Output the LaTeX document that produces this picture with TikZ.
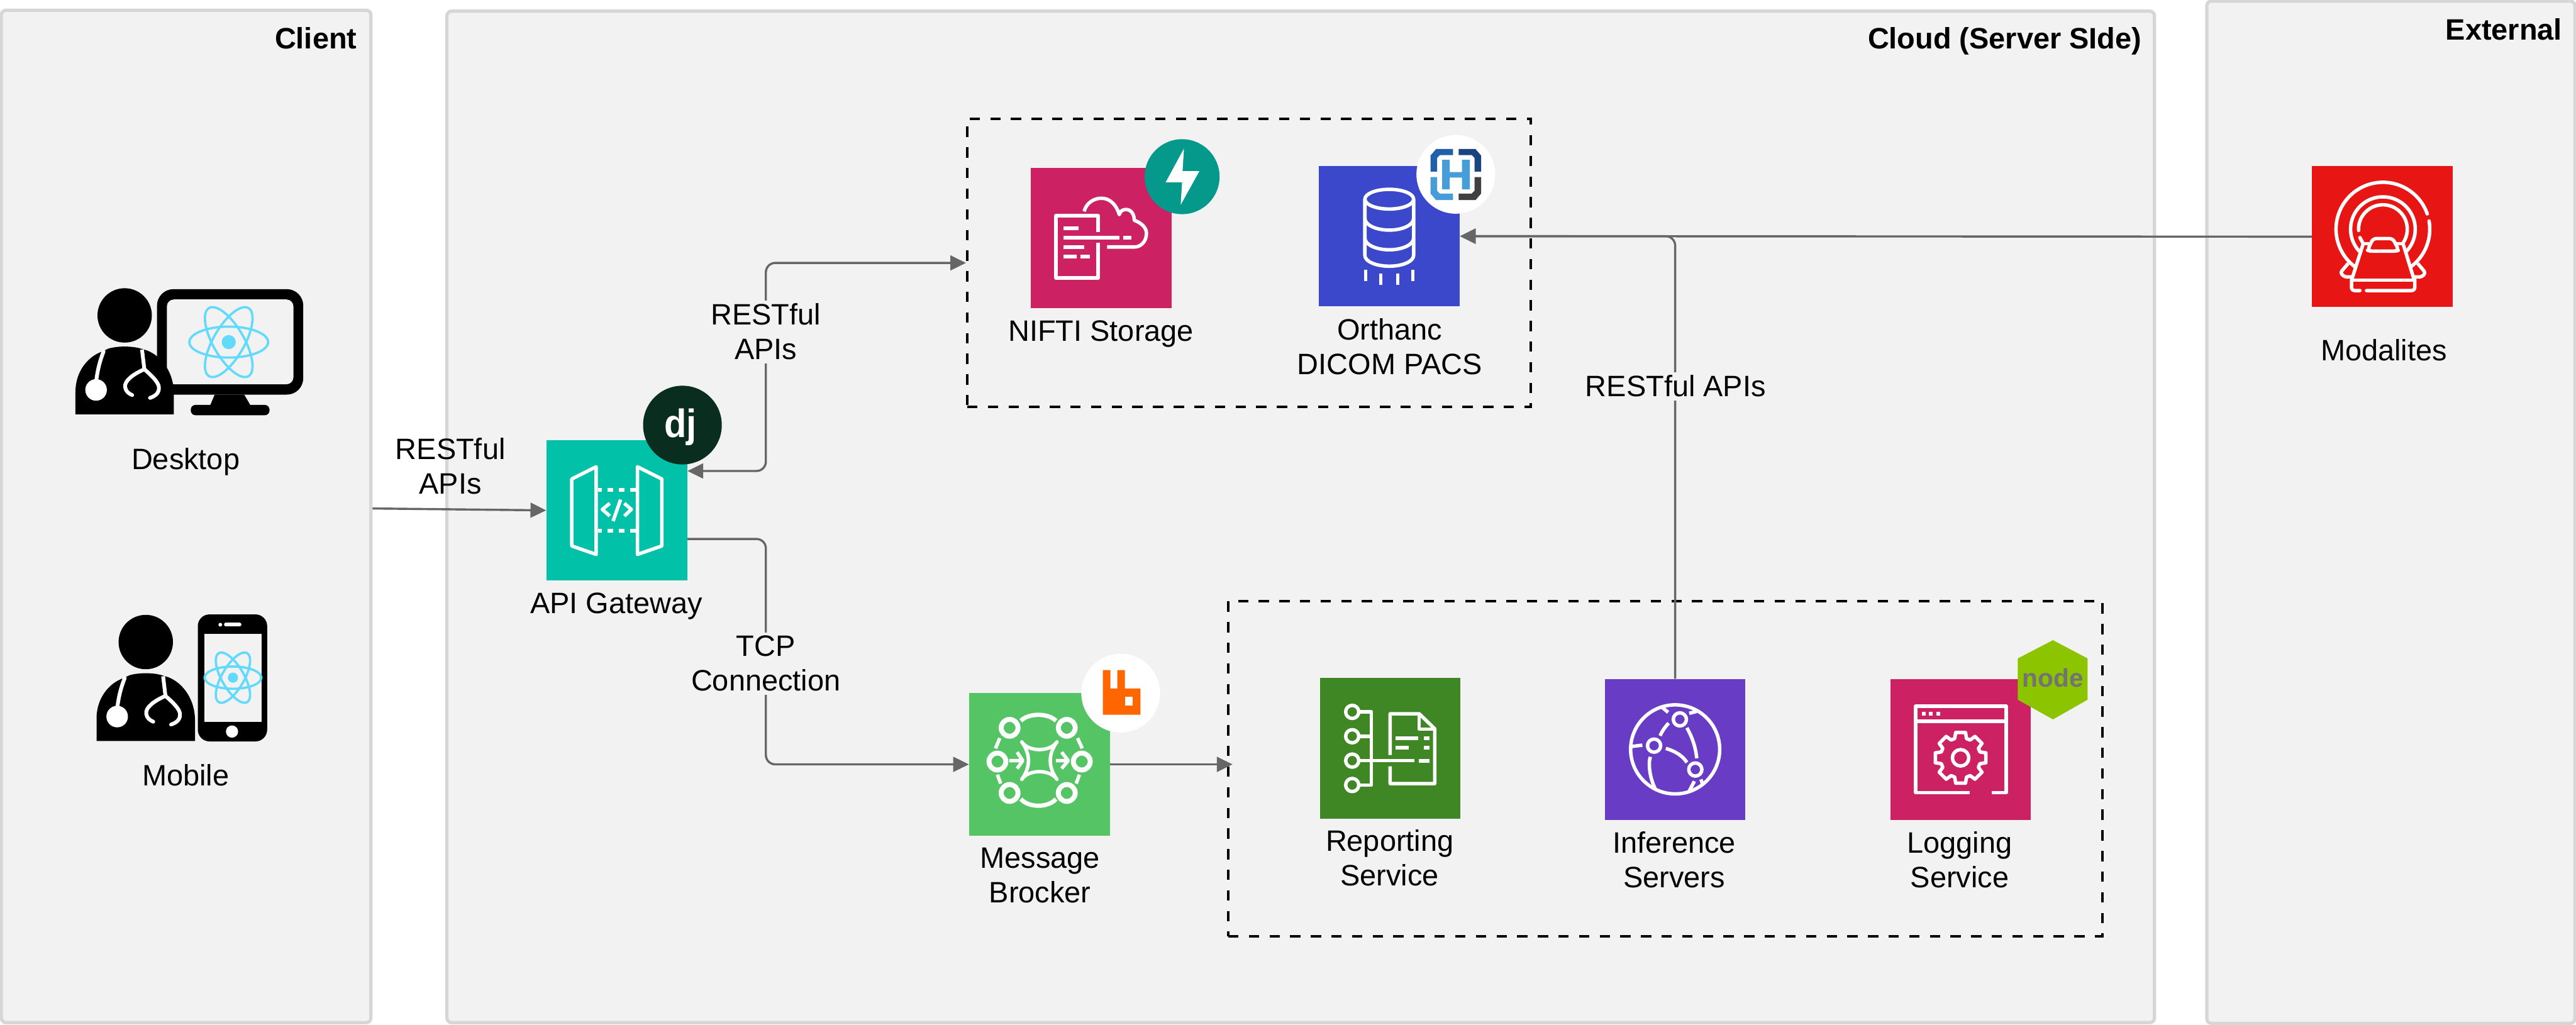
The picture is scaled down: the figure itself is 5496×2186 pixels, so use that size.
\documentclass[tikz,border=0pt]{standalone}
\usepackage{fontspec}
\usepackage{graphicx}
\setmainfont{Liberation Sans}
\usetikzlibrary{arrows.meta}
\definecolor{panelgray}{HTML}{F2F2F2}
\definecolor{panelrule}{HTML}{D6D6D6}
\definecolor{wiregray}{HTML}{666666}
\definecolor{reactblue}{HTML}{61DAFB}
\definecolor{apiteal}{HTML}{01C2A8}
\definecolor{awspink}{HTML}{CC2264}
\definecolor{awsblue}{HTML}{3B48CC}
\definecolor{brokergreen}{HTML}{55C464}
\definecolor{reportgreen}{HTML}{3F8624}
\definecolor{inferpurple}{HTML}{693CC5}
\definecolor{modalred}{HTML}{E81515}
\definecolor{fastteal}{HTML}{05998B}
\definecolor{djgreen}{HTML}{092E20}
\definecolor{nodelime}{HTML}{8CC400}
\definecolor{rabbitorange}{HTML}{FF6600}
\definecolor{hblue}{HTML}{2060A8}
\definecolor{hnavy}{HTML}{1A4480}
\definecolor{hsky}{HTML}{469DD8}
\definecolor{hdark}{HTML}{404040}
\tikzset{
  panel/.style={draw=panelrule,fill=panelgray,line width=2pt,rounded corners=0.1cm,inner sep=0pt},
  paneltitle/.style={font=\fontsize{17.9}{21}\selectfont\bfseries,inner sep=0pt},
  dashbox/.style={draw=black,line width=1.6pt,dash pattern=on 0.22cm off 0.22cm,inner sep=0pt},
  svcbox/.style={minimum size=3cm,inner sep=0pt},
  caption/.style={font=\fontsize{17.9}{21}\selectfont,align=center,inner sep=0pt},
  wirelabel/.style={caption,fill=panelgray,inner sep=2pt},
  wire/.style={draw=wiregray,line width=1.3pt,rounded corners=0.2cm,->},
  iconline/.style={draw=white,line width=2.1pt,line join=round},
  reactline/.style={draw=reactblue,line width=1.4pt},
}
\newcommand{\doctoricon}[2]{%
  \begin{scope}[shift={(#1,#2)}]
    \fill (266,673) circle (58);
    \fill (161,884) -- (161,836) .. controls (161,795) and (185,762) .. (218,750)
      -- (231,744) .. controls (250,738) and (282,738) .. (301,744)
      -- (314,748) .. controls (345,760) and (371,795) .. (371,840) -- (371,884) -- cycle;
    \draw[white,line width=2.3pt,line cap=round] (221,750) .. controls (213,770) and (208,790) .. (205,815);
    \fill[white] (205,832) circle (23);
    \draw[white,line width=2.3pt] (303,746) -- (308,788);
    \draw[white,line width=2.3pt,line cap=round] (282,843) .. controls (275,840) and (268,835) .. (267,826)
      .. controls (265,812) and (285,798) .. (308,788) .. controls (322,800) and (338,815) .. (339,826)
      .. controls (340,838) and (332,845) .. (320,849);
  \end{scope}}
\newcommand{\reacticon}[3]{%
  \begin{scope}[shift={(#1,#2)},scale=#3]
    \foreach \turn in {0,60,120}
      \draw[reactline,rotate=\turn] (0,0) ellipse (84 and 33);
    \fill[reactblue] (0,0) circle (15);
  \end{scope}}
\begin{document}
\begin{tikzpicture}[x=0.01cm,y=-0.01cm,>={Triangle[length=9.5pt,width=9pt]}]
  \clip (0,0) rectangle (5496,2186);
  % panels
  \node[panel,minimum width=7.88cm,minimum height=21.59cm] (client) at (397,1102) {};
  \node[panel,minimum width=36.41cm,minimum height=21.57cm] (cloud) at (2775,1103) {};
  \node[panel,minimum width=7.85cm,minimum height=21.8cm] (external) at (5101,1093) {};
  \node[paneltitle,anchor=east] (clienttitle) at (762,81) {Client};
  \node[paneltitle,anchor=east] (cloudtitle) at (4570,88) {Cloud (Server SIde)};
  \node[paneltitle,anchor=east] (externaltitle) at (5467,63) {External};
  % dashed groups
  \node[dashbox,minimum width=12.02cm,minimum height=6.15cm] (storebox) at (2665,561) {};
  \node[dashbox,minimum width=18.64cm,minimum height=7.15cm] (servicebox) at (3553,1640) {};
  % client icons
  \fill[rounded corners=0.35cm] (335,617) rectangle (647,842);
  \fill[panelgray,rounded corners=0.15cm] (356,639) rectangle (626,820);
  \fill (458,842) -- (521,842) -- (535,866) -- (448,866) -- cycle;
  \fill[rounded corners=0.1cm] (407,864) rectangle (575,886);
  \reacticon{488}{730}{1}
  \doctoricon{0}{0}
  \fill[rounded corners=0.25cm] (422,1311) rectangle (570,1582);
  \fill[panelgray] (436,1353) rectangle (558,1540);
  \draw[white,line width=2.3pt,line cap=round] (482,1333) -- (511,1333);
  \fill[white] (470,1333) circle (4);
  \fill[white] (495,1561) circle (13);
  \reacticon{497}{1446}{0.72}
  \doctoricon{45}{697}
  \node[caption] (desktop) at (396,985) {Desktop};
  \node[caption] (mobile) at (396,1654) {Mobile};
  % services
  \node[svcbox,fill=apiteal] (api) at (1316,1089) {};
  \node[svcbox,fill=awspink] (nifti) at (2349,508) {};
  \node[svcbox,fill=awsblue] (orthanc) at (2964,504) {};
  \node[svcbox,fill=brokergreen,minimum height=3.04cm] (broker) at (2218,1631) {};
  \node[svcbox,fill=reportgreen] (report) at (2966,1597) {};
  \node[svcbox,fill=inferpurple] (infer) at (3574,1599) {};
  \node[svcbox,fill=awspink] (logging) at (4183,1599) {};
  \node[svcbox,fill=modalred] (modal) at (5083,505) {};
  \node[caption] (apilabel) at (1315,1293) {API Gateway};
  \node[caption] (niftilabel) at (2349,712) {NIFTI Storage};
  \node[caption] (orthanclabel) at (2965,740) {Orthanc\\DICOM PACS};
  \node[caption] (brokerlabel) at (2219,1868) {Message\\Brocker};
  \node[caption] (reportlabel) at (2965,1830) {Reporting\\Service};
  \node[caption] (inferlabel) at (3572,1834) {Inference\\Servers};
  \node[caption] (logginglabel) at (4181,1834) {Logging\\Service};
  \node[caption] (modallabel) at (5086,747) {Modalites};
  % connectors
  \coordinate (clientedge) at ([yshift=0.17cm]client.east);
  \coordinate (apibend) at (1634,700);
  \draw[wire] (clientedge) -- (api.west);
  \draw[wire,<->] ([yshift=0.84cm]api.east) -| (apibend) |- (storebox.west);
  \draw[wire] ([yshift=-0.61cm]api.east) -| (apibend |- broker.west) -- (broker.west);
  \draw[wire] (broker.east) -- ([xshift=0.12cm]broker.east -| servicebox.west);
  \draw[wire] (modal.west) -- (orthanc.east);
  \draw[wire] (infer.north) |- (orthanc.east);
  \node[caption] (clientapis) at (961,995) {RESTful\\APIs};
  \node[wirelabel] (storeapis) at (1634,708) {RESTful\\APIs};
  \node[wirelabel] (tcplabel) at (1634,1416) {TCP\\Connection};
  \node[wirelabel] (inferapis) at (3575,824) {RESTful APIs};
  % api gateway glyph
  \fill[djgreen] (1456,907) circle (84);
  \node[white,inner sep=0pt,font=\fontsize{24}{24}\selectfont\bfseries] (djlogo) at (1452,911) {\scalebox{0.92}[1]{dj}};
  \draw[iconline] (1220,1022) -- (1272,996) -- (1272,1183) -- (1220,1165) -- cycle;
  \draw[iconline] (1412,1022) -- (1360,996) -- (1360,1183) -- (1412,1165) -- cycle;
  \foreach \rowy in {1045,1133}
    \foreach \dashx/\dashw in {1276/1284,1296/1308,1320/1332,1344/1357}
      \fill[white] (\dashx,\rowy-4) rectangle (\dashw,\rowy+4);
  \draw[iconline] (1301,1074) -- (1285,1087) -- (1301,1101);
  \draw[iconline] (1332,1074) -- (1347,1087) -- (1332,1101);
  \draw[iconline] (1324,1066) -- (1308,1112);
  % nifti glyph
  \draw[iconline] (2343,495) -- (2343,460) -- (2253,460) -- (2253,593) -- (2343,593) -- (2343,518);
  \foreach \barx/\bary/\barw in {2269/483/2301,2269/503/2389,2397/503/2414,2269/523/2313,2269/543/2297,2305/543/2325}
    \fill[white] (\barx,\bary) rectangle (\barw,\bary+8);
  \draw[iconline] (2313,451) .. controls (2318,432) and (2335,423) .. (2350,423)
    .. controls (2370,423) and (2383,440) .. (2388,458) .. controls (2390,450) and (2396,447) .. (2402,447)
    .. controls (2414,447) and (2420,458) .. (2420,470) .. controls (2436,476) and (2446,486) .. (2446,498)
    .. controls (2446,515) and (2434,527) .. (2421,527) -- (2362,527);
  \fill[fastteal] (2522,377) circle (80);
  \fill[white] (2526,317) -- (2487,389) -- (2522,389) -- (2519,437) -- (2559,365) -- (2523,365) -- cycle;
  % orthanc glyph
  \draw[iconline] (2964,425) ellipse (52 and 21);
  \draw[iconline] (2912,425) -- (2912,545) arc[start angle=180,end angle=0,x radius=52,y radius=23] -- (3016,425);
  \draw[iconline] (2912,466) arc[start angle=180,end angle=0,x radius=52,y radius=25];
  \draw[iconline] (2912,508) arc[start angle=180,end angle=0,x radius=52,y radius=25];
  \foreach \tickx/\ticky in {2914/576,2946/584,2982/584,3014/576}
    \draw[iconline,line width=2pt] (\tickx,\ticky) -- (\tickx,\ticky+24);
  \fill[white] (3106,372) circle (84);
  \fill[hblue] (3052,366) -- (3052,332) -- (3064,318) -- (3100,318) -- (3100,331) -- (3072,331) -- (3066,337) -- (3066,366) -- cycle;
  \fill[hnavy] (3160,366) -- (3160,332) -- (3148,318) -- (3112,318) -- (3112,331) -- (3140,331) -- (3146,337) -- (3146,366) -- cycle;
  \fill[hsky] (3052,378) -- (3052,413) -- (3064,427) -- (3100,427) -- (3100,413) -- (3072,413) -- (3066,407) -- (3066,378) -- cycle;
  \fill[hdark] (3160,378) -- (3160,413) -- (3148,427) -- (3112,427) -- (3112,413) -- (3140,413) -- (3146,407) -- (3146,378) -- cycle;
  \fill[hsky] (3077,341) rectangle (3093,404) (3119,341) rectangle (3136,404) (3093,367) rectangle (3119,379);
  % broker glyph
  \foreach \ringx/\ringy in {2154/1553,2276/1553,2128/1625,2308/1625,2154/1692,2276/1692}
    \draw[iconline,line width=3pt] (\ringx,\ringy) circle (18);
  \draw[iconline,line width=2.6pt] (2178,1538) .. controls (2195,1521) and (2236,1521) .. (2253,1538);
  \draw[iconline,line width=2.6pt] (2178,1705) .. controls (2195,1724) and (2236,1724) .. (2253,1705);
  \draw[iconline] (2133,1575) -- (2124,1597) (2299,1575) -- (2309,1597);
  \draw[iconline] (2128,1653) -- (2135,1672) (2303,1653) -- (2296,1672);
  \draw[iconline] (2180,1583) .. controls (2195,1605) and (2240,1605) .. (2255,1583)
    .. controls (2236,1610) and (2236,1636) .. (2255,1663) .. controls (2240,1641) and (2195,1641) .. (2180,1663)
    .. controls (2199,1636) and (2199,1610) .. (2180,1583) -- cycle;
  \draw[iconline] (2153,1623) -- (2181,1623) (2170,1605) -- (2182,1623) -- (2170,1640);
  \draw[iconline] (2253,1623) -- (2278,1623) (2265,1605) -- (2279,1623) -- (2265,1640);
  \fill[white] (2391,1479) circle (84);
  \fill[rabbitorange] (2353,1430) -- (2369,1430) -- (2369,1469) -- (2384,1469) -- (2384,1430) -- (2400,1430)
    -- (2400,1469) -- (2433,1469) -- (2433,1525) -- (2353,1525) -- cycle;
  \fill[white] (2401,1487) rectangle (2417,1506);
  % reporting glyph
  \foreach \ringy in {1519,1571,1623,1675}
    \draw[iconline] (2885,\ringy) circle (14);
  \draw[iconline] (2902,1519) -- (2926,1519) -- (2926,1675) -- (2902,1675);
  \draw[iconline] (2902,1571) -- (2926,1571) (2902,1623) -- (3018,1623);
  \fill[white] (3027,1619) rectangle (3050,1627);
  \draw[iconline] (2966,1611) -- (2966,1523) -- (3028,1523) -- (3061,1555) -- (3061,1672) -- (2966,1672) -- (2966,1635);
  \draw[iconline] (3028,1523) -- (3028,1556) -- (3061,1556);
  \foreach \barx/\bary/\barw in {2978/1571/3026,3038/1571/3050,2978/1591/3006,3038/1591/3050}
    \fill[white] (\barx,\bary) rectangle (\barw,\bary+8);
  % inference glyph
  \draw[iconline] (3574,1599) circle (95);
  \foreach \ringx/\ringy in {3584/1535,3529/1591,3617/1642}
    \draw[iconline] (\ringx,\ringy) circle (14);
  \draw[iconline] (3560,1543) .. controls (3552,1552) and (3546,1560) .. (3542,1570);
  \draw[iconline] (3599,1553) .. controls (3610,1572) and (3618,1595) .. (3620,1618);
  \draw[iconline] (3554,1597) .. controls (3572,1602) and (3590,1612) .. (3599,1627);
  \draw[iconline] (3559,1520) -- (3547,1510) (3604,1522) -- (3620,1518) (3504,1590) -- (3480,1593);
  \draw[iconline] (3521,1615) .. controls (3516,1630) and (3520,1660) .. (3531,1682);
  \draw[iconline] (3615,1667) -- (3604,1688) (3629,1663) -- (3632,1672);
  % logging glyph
  \draw[iconline] (4202,1691) -- (4087,1691) -- (4087,1507) -- (4280,1507) -- (4280,1691) -- (4250,1691);
  \draw[iconline] (4087,1539) -- (4280,1539);
  \foreach \dotx in {4100,4115,4131}
    \fill[white] (\dotx,1519) rectangle (\dotx+8,1527);
  \begin{scope}[shift={(4183,1617)}]
    \draw[iconline] (-17:43) \foreach \toothang in {0,45,...,315} {
      -- (\toothang-11:55) -- (\toothang+11:55) -- (\toothang+17:43) -- (\toothang+28:43)} -- cycle;
    \draw[iconline] (0,0) circle (17.5);
  \end{scope}
  \fill[nodelime] (4380,1366) -- (4454,1405) -- (4454,1493) -- (4380,1535) -- (4305,1493) -- (4305,1405) -- cycle;
  \node[text=black!55,inner sep=0pt,font=\fontsize{15.5}{16}\selectfont\bfseries] (nodejs) at (4380,1447) {node};
  % modality glyph
  \begin{scope}[shift={(5084,489)}]
    \draw[iconline,line cap=round] (-19:100) arc[start angle=-19,end angle=-233,radius=100];
    \draw[iconline,line cap=round] (-10:100) arc[start angle=-10,end angle=53,radius=100];
    \draw[iconline] (-224:69) arc[start angle=-224,end angle=44,radius=69];
    \draw[iconline,line cap=round] (-183:52) arc[start angle=-183,end angle=36,radius=52];
  \end{scope}
  \draw[iconline,line cap=round] (5035,507) -- (5042,520) -- (5018,595) (5127,520) -- (5150,595);
  \draw[iconline] (5018,598) -- (5150,598);
  \draw[iconline,line cap=round,rounded corners=0.06cm] (5035,620) -- (5017,620) -- (5017,597);
  \draw[iconline,line cap=round,rounded corners=0.06cm] (5049,620) -- (5152,620) -- (5152,597);
  \draw[iconline,rounded corners=0.07cm] (5063,509) -- (5105,509) -- (5118,534) -- (5110,536) -- (5058,536) -- (5051,534) -- cycle;
  \draw[iconline] (5042,520) -- (5055,520) (5113,520) -- (5127,520);
  \draw[iconline,rounded corners=0.05cm] (5010,562) -- (4993,582) -- (5002,591) -- (5018,591);
  \draw[iconline,rounded corners=0.05cm] (5158,562) -- (5175,582) -- (5167,591) -- (5150,591);
\end{tikzpicture}
\end{document}
